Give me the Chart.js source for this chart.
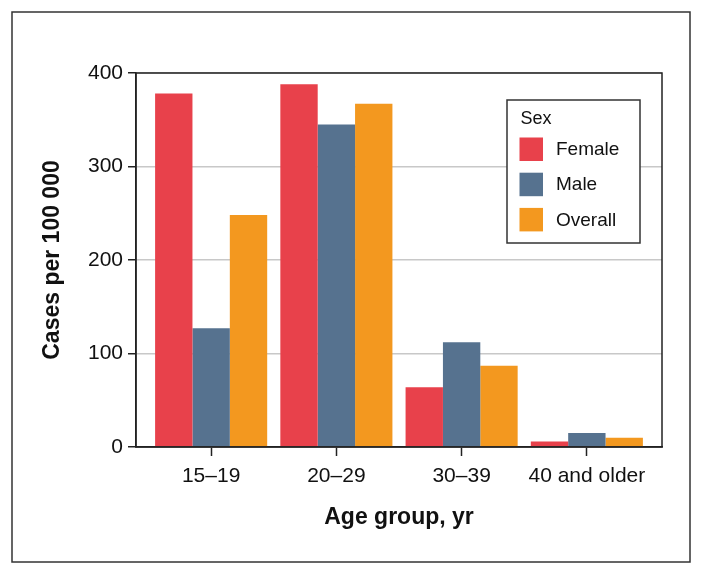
<!DOCTYPE html>
<html>
<head>
<meta charset="utf-8">
<script src="https://cdn.jsdelivr.net/npm/chart.js@4.4.1/dist/chart.umd.min.js"></script>
<style>
  html, body { margin: 0; padding: 0; background: #ffffff; }
  #c { display: block; }
</style>
</head>
<body>
<canvas id="c" width="703" height="575"></canvas>
<script>
const categories = ['15–19', '20–29', '30–39', '40 and older'];
const female = [378, 388, 64, 6];
const male = [127, 345, 112, 15];
const overall = [248, 367, 87, 10];
const yTicks = [0, 100, 200, 300, 400];
const seriesNames = ['Female', 'Male', 'Overall'];
const seriesColors = ['#E8414B', '#56728F', '#F3981F'];

const FONT = '"Liberation Sans", Arial, Helvetica, sans-serif';

function toPoints(arr) {
  return arr.map((v, i) => ({ x: i, y: v }));
}

const framePlugin = {
  id: 'framePlugin',
  afterDraw(chart) {
    const ctx = chart.ctx;
    const a = chart.chartArea;
    ctx.save();
    ctx.strokeStyle = '#222222';
    ctx.lineWidth = 1.5;
    ctx.strokeRect(a.left, a.top, a.right - a.left, a.bottom - a.top);
    ctx.strokeStyle = '#333333';
    ctx.lineWidth = 1.5;
    ctx.strokeRect(12, 12, 678, 550);
    ctx.restore();
  },
  afterDatasetsDraw(chart) {
    const ctx = chart.ctx;
    const bx = 507, by = 100, bw = 133, bh = 143;
    ctx.save();
    ctx.fillStyle = '#ffffff';
    ctx.fillRect(bx, by, bw, bh);
    ctx.strokeStyle = '#333333';
    ctx.lineWidth = 1.5;
    ctx.strokeRect(bx, by, bw, bh);
    ctx.fillStyle = '#111111';
    ctx.font = '18px ' + FONT;
    ctx.textBaseline = 'alphabetic';
    ctx.textAlign = 'left';
    ctx.fillText('Sex', 520.5, 123.5);
    ctx.font = '19px ' + FONT;
    chart.data.datasets.forEach((ds, i) => {
      const sy = 137.5 + i * 35.2;
      ctx.fillStyle = ds.backgroundColor;
      ctx.fillRect(519.5, sy, 23.5, 23.5);
      ctx.fillStyle = '#111111';
      ctx.textBaseline = 'middle';
      ctx.fillText(ds.label, 556, sy + 12.5);
    });
    ctx.restore();
  }
};

new Chart(document.getElementById('c'), {
  type: 'bar',
  data: {
    datasets: [
      { label: seriesNames[0], data: toPoints(female), backgroundColor: seriesColors[0] },
      { label: seriesNames[1], data: toPoints(male), backgroundColor: seriesColors[1] },
      { label: seriesNames[2], data: toPoints(overall), backgroundColor: seriesColors[2] }
    ]
  },
  options: {
    responsive: false,
    animation: false,
    devicePixelRatio: 1,
    categoryPercentage: 0.895,
    barPercentage: 1.0,
    layout: { padding: { left: 0, right: 41, top: 73, bottom: 0 } },
    plugins: {
      legend: { display: false },
      tooltip: { enabled: false }
    },
    scales: {
      x: {
        type: 'linear',
        min: -0.6,
        max: 3.6,
        offset: false,
        afterBuildTicks(scale) {
          scale.ticks = categories.map((c, i) => ({ value: i }));
        },
        afterFit(scale) { scale.height = 128; },
        ticks: {
          autoSkip: false,
          maxRotation: 0,
          padding: 8,
          color: '#111111',
          font: { family: FONT, size: 21 },
          callback: (v) => categories[v]
        },
        grid: {
          offset: false,
          drawOnChartArea: false,
          drawTicks: true,
          tickLength: 9,
          tickWidth: 1.5,
          tickColor: '#222222'
        },
        border: { display: true, color: '#222222', width: 1.5 },
        title: {
          display: true,
          text: 'Age group, yr',
          color: '#111111',
          font: { family: FONT, size: 23, weight: 'bold' },
          padding: { top: 0, bottom: 44 }
        }
      },
      y: {
        min: 0,
        max: 400,
        afterBuildTicks(scale) {
          scale.ticks = yTicks.map(v => ({ value: v }));
        },
        afterFit(scale) { scale.width = 136; },
        ticks: {
          padding: 5,
          color: '#111111',
          font: { family: FONT, size: 21 }
        },
        grid: {
          color: '#c8c8c8',
          lineWidth: 1.5,
          tickLength: 8,
          tickWidth: 1.5,
          tickColor: '#222222'
        },
        border: { display: true, color: '#222222', width: 1.5 },
        title: {
          display: true,
          text: 'Cases per 100 000',
          color: '#111111',
          font: { family: FONT, size: 23, weight: 'bold' },
          padding: { top: 39, bottom: 0 }
        }
      }
    }
  },
  plugins: [framePlugin]
});
</script>
</body>
</html>
